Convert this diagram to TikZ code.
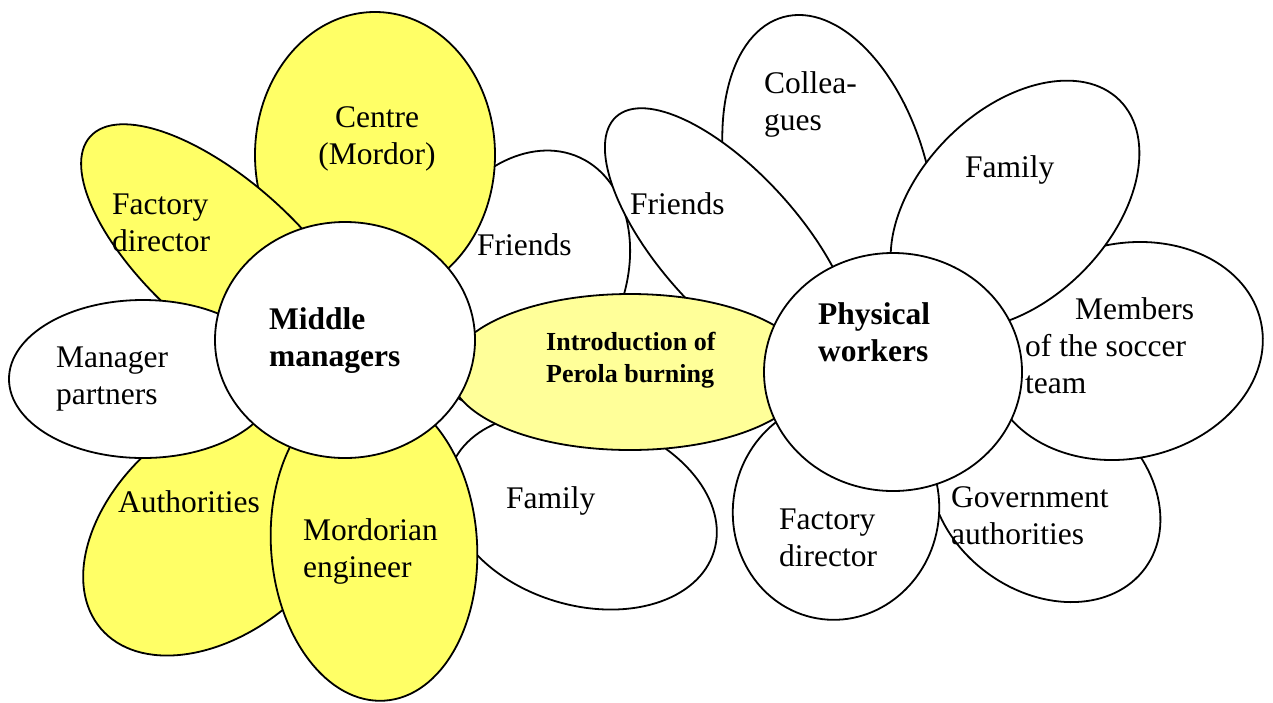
\documentclass[tikz,border=0pt]{standalone}
\usepackage{fontspec}
\setmainfont{Liberation Serif}
\usetikzlibrary{shapes.geometric}
\definecolor{petalyellow}{RGB}{255,255,102}
\definecolor{lightyellow}{RGB}{255,255,153}
\begin{document}
\begin{tikzpicture}[x=1pt,y=-1pt,
  petal/.style={ellipse,draw=black,line width=1.8pt,fill=white,inner sep=0pt,outer sep=0pt},
  yel/.style={petal,fill=petalyellow},
  hub/.style={petal,fill=white},
  % labels are placed by the baseline of their last line
  lbl/.style={font=\fontsize{31.5}{37}\selectfont,inner sep=0pt,align=left,anchor=base west},
  hublbl/.style={lbl,font=\fontsize{31.5}{37}\selectfont\bfseries},
  ]
\useasboundingbox (0,0) rectangle (1273,702);

% back layer of petals
\node[petal,minimum width=350pt,minimum height=200pt,rotate=105] (colleagues) at (829,186) {};
\node[petal,minimum width=200pt,minimum height=270pt,rotate=-25] (friendsL) at (523,280) {};
\node[petal,minimum width=340pt,minimum height=140pt,rotate=-48] (friendsR) at (730,243) {};
\node[petal,minimum width=248pt,minimum height=194pt,rotate=-36] (government) at (1045,495) {};
\node[petal,minimum width=276pt,minimum height=215pt,rotate=12] (members) at (1126,351) {};
\node[petal,minimum width=296pt,minimum height=190pt,rotate=45] (familyR) at (1015,205) {};
\node[petal,minimum width=206pt,minimum height=220pt,rotate=-10] (factoryR) at (836,510) {};
\node[petal,minimum width=276pt,minimum height=188pt,rotate=-17] (familyL) at (582,511) {};
\node[yel,minimum width=316pt,minimum height=208pt,rotate=40.5] (authorities) at (221,526) {};
\node[yel,minimum width=240pt,minimum height=286pt] (centre) at (375,155) {};
\node[yel,minimum width=360pt,minimum height=150pt,rotate=-42] (factoryL) at (224,257) {};
\node[petal,minimum width=268pt,minimum height=158pt] (manager) at (143,379) {};
\node[yel,minimum width=206pt,minimum height=312pt,rotate=4] (mordorian) at (374,545) {};

% the link between the two flowers
\node[petal,fill=lightyellow,minimum width=360pt,minimum height=156pt] (intro) at (630,372) {};

% flower hearts
\node[hub,minimum width=260pt,minimum height=236pt] (middle) at (345,340) {};
\node[hub,minimum width=258pt,minimum height=238pt] (physical) at (893,372) {};

% labels
\node[lbl,align=center,anchor=base] (tcentre) at (377,164) {Centre\\(Mordor)};
\node[lbl] (tfactoryL) at (112,251) {Factory\\director};
\node[lbl] (tfriendsL) at (477,255) {Friends};
\node[lbl] (tmanager) at (56,404) {Manager\\partners};
\node[hublbl] (tmiddle) at (269,366) {Middle\\managers};
\node[lbl] (tauthorities) at (118,512) {Authorities};
\node[lbl] (tmordorian) at (303,577) {Mordorian\\engineer};
\node[lbl] (tfamilyL) at (506,508) {Family};
\node[lbl,font=\fontsize{26}{32}\selectfont\bfseries] (tintro) at (546,382) {Introduction of\\Perola burning};
\node[lbl] (tcolleagues) at (764,130) {Collea-\\gues};
\node[lbl] (tfriendsR) at (630,214) {Friends};
\node[lbl] (tfamilyR) at (965,177) {Family};
\node[hublbl] (tphysical) at (818,361) {Physical\\workers};
\node[lbl] (tmembers) at (1025,393) {\hspace*{50pt}Members\\of the soccer\\team};
\node[lbl] (tgovernment) at (951,544) {Government\\authorities};
\node[lbl] (tfactoryR) at (779,566) {Factory\\director};
\end{tikzpicture}
\end{document}
